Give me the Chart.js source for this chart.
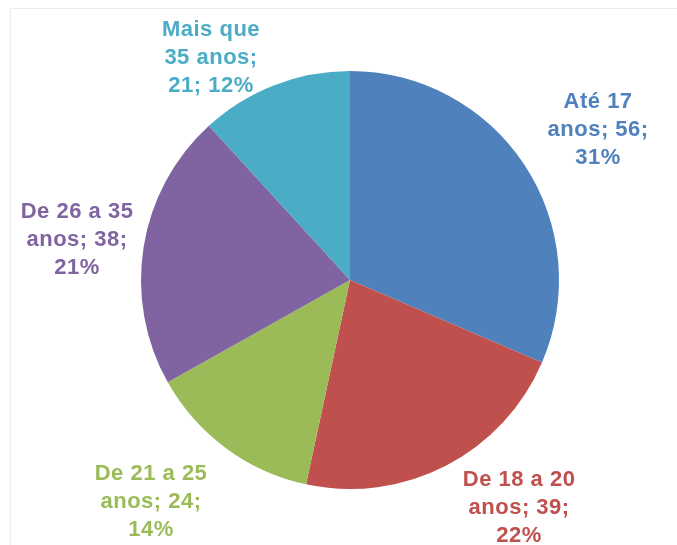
<!DOCTYPE html>
<html>
<head>
<meta charset="utf-8">
<script src="https://cdn.jsdelivr.net/npm/chart.js@4"></script>
<style>
  html,body{margin:0;padding:0;background:#fff;}
  #wrap{width:677px;height:545px;position:relative;}
</style>
</head>
<body>
<div id="wrap"><canvas id="pie" width="677" height="545"></canvas></div>
<script>
// age groups and counts
const categories = ["Até 17 anos", "De 18 a 20 anos", "De 21 a 25 anos", "De 26 a 35 anos", "Mais que 35 anos"];
const counts = [56, 39, 24, 38, 21];
const percents = ["31%", "22%", "14%", "21%", "12%"];
const labelLines = [
  ["Até 17", "anos; 56;", "31%"],
  ["De 18 a 20", "anos; 39;", "22%"],
  ["De 21 a 25", "anos; 24;", "14%"],
  ["De 26 a 35", "anos; 38;", "21%"],
  ["Mais que", "35 anos;", "21; 12%"]
];
const colors = ["#4F81BD", "#C0504D", "#9BBB59", "#8064A2", "#4BACC6"];

// label anchors, relative to pie center in radius units (dx, dy)
const labelAnchor = [[1.187, -0.718], [0.809, 1.091], [-0.952, 1.062], [-1.306, -0.191], [-0.665, -1.062]];

const frame = {
  id: "frame",
  beforeDraw(chart){
    const c = chart.ctx;
    c.save();
    c.strokeStyle = "#ececec"; c.lineWidth = 1;
    c.beginPath();
    c.moveTo(10.5, 545); c.lineTo(10.5, 8.5); c.lineTo(677, 8.5);
    c.stroke();
    c.restore();
  }
};

const pieLabels = {
  id: "pieLabels",
  afterDatasetsDraw(chart){
    const c = chart.ctx;
    const arcs = chart.getDatasetMeta(0).data;
    c.save();
    c.font = "bold 22px 'Liberation Sans', Arial, sans-serif";
    c.letterSpacing = "0.5px";
    c.textAlign = "center"; c.textBaseline = "middle";
    arcs.forEach((a, i) => {
      const r = a.outerRadius;
      const x = a.x + labelAnchor[i][0]*r;
      const y = a.y + labelAnchor[i][1]*r;
      c.fillStyle = colors[i];
      const lines = labelLines[i];
      lines.forEach((t, k) => c.fillText(t, x, y + (k - (lines.length-1)/2)*28));
    });
    c.restore();
  }
};

new Chart(document.getElementById("pie"), {
  type: "pie",
  data: {
    labels: categories,
    datasets: [{ data: counts, backgroundColor: colors, borderWidth: 0 }]
  },
  options: {
    responsive: false,
    animation: false,
    layout: { padding: { top: 71, bottom: 56, left: 141, right: 118 } },
    plugins: { legend: { display: false }, tooltip: { enabled: false } }
  },
  plugins: [frame, pieLabels]
});
</script>
</body>
</html>
